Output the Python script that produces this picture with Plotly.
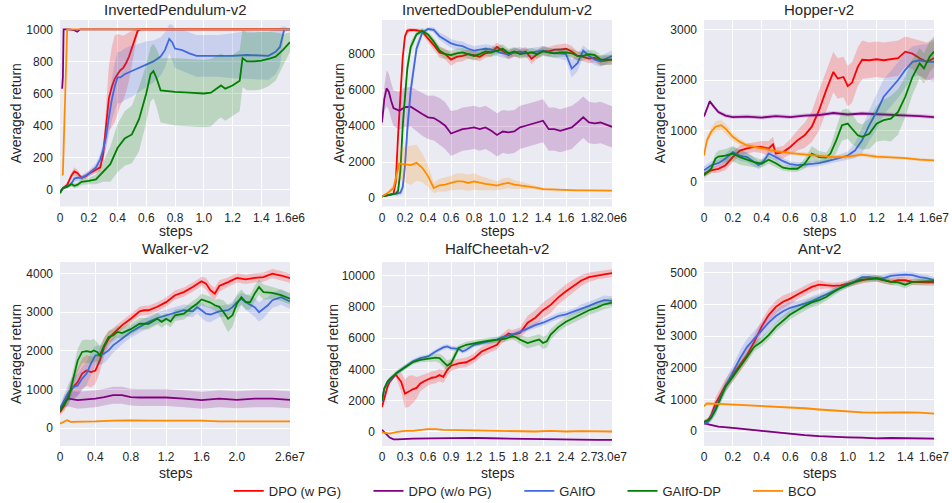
import plotly.graph_objects as go

# ---------------- InvertedPendulum-v2 (x in 1e6 steps) ----------------
ip_pg_x = [0, 0.02, 0.05, 0.08, 0.1, 0.12, 0.15, 0.18, 0.2, 0.23, 0.25, 0.28, 0.3, 0.32, 0.34, 0.36, 0.38, 0.4, 0.42, 0.44, 0.46, 0.48, 0.5, 0.52, 0.54, 0.56, 0.6, 0.8, 1.0, 1.2, 1.4, 1.6]
ip_pg_y = [-20, 10, 30, 90, 115, 105, 75, 85, 100, 115, 120, 140, 220, 380, 570, 640, 690, 720, 745, 760, 790, 830, 880, 940, 990, 1000, 1000, 1000, 1000, 1000, 1000, 1000]
ip_pg_sd = [5, 10, 15, 20, 25, 20, 15, 15, 15, 20, 20, 25, 40, 120, 200, 250, 270, 250, 220, 200, 180, 150, 110, 60, 20, 0, 0, 0, 0, 0, 0, 0]
ip_nopg_x = [0.015, 0.02, 0.025, 0.06, 0.1, 0.12, 0.14, 0.2, 0.6, 1.0, 1.6]
ip_nopg_y = [630, 700, 1000, 1000, 995, 985, 1000, 1000, 1000, 1000, 1000]
ip_nopg_sd = [0, 0, 0, 0, 0, 0, 0, 0, 0, 0, 0]
ip_gaifo_x = [0, 0.02, 0.05, 0.08, 0.1, 0.12, 0.15, 0.2, 0.25, 0.28, 0.3, 0.32, 0.34, 0.36, 0.38, 0.4, 0.42, 0.45, 0.5, 0.55, 0.6, 0.65, 0.7, 0.73, 0.76, 0.78, 0.8, 0.85, 0.9, 0.95, 1.0, 1.1, 1.2, 1.3, 1.4, 1.45, 1.5, 1.53, 1.56, 1.6]
ip_gaifo_y = [-10, 10, 20, 40, 70, 75, 75, 100, 140, 190, 250, 330, 450, 560, 640, 700, 700, 720, 740, 760, 785, 800, 830, 870, 940, 920, 880, 870, 850, 835, 835, 835, 835, 840, 835, 835, 860, 890, 1000, 1000]
ip_gaifo_sd = [5, 10, 10, 15, 20, 20, 15, 20, 25, 35, 50, 70, 100, 130, 150, 160, 160, 160, 160, 150, 140, 130, 120, 110, 90, 110, 120, 130, 130, 130, 130, 130, 140, 150, 150, 150, 140, 120, 20, 0]
ip_gaifodp_x = [0, 0.02, 0.05, 0.08, 0.1, 0.12, 0.15, 0.2, 0.25, 0.3, 0.35, 0.4, 0.45, 0.5, 0.55, 0.6, 0.63, 0.65, 0.67, 0.7, 0.8, 0.9, 1.0, 1.05, 1.1, 1.12, 1.15, 1.2, 1.25, 1.27, 1.3, 1.35, 1.4, 1.45, 1.5, 1.55, 1.6]
ip_gaifodp_y = [-20, 10, 20, 35, 25, 30, 50, 55, 65, 110, 160, 260, 320, 345, 440, 600, 720, 740, 700, 620, 610, 605, 600, 605, 640, 650, 630, 650, 680, 820, 800, 800, 805, 815, 830, 870, 920]
ip_gaifodp_sd = [10, 10, 10, 15, 15, 15, 20, 20, 30, 60, 110, 150, 170, 180, 200, 180, 170, 170, 180, 200, 210, 210, 210, 210, 200, 200, 200, 190, 190, 180, 180, 180, 180, 170, 150, 100, 60]
ip_bco_x = [0.015, 0.02, 0.05, 0.1, 0.6, 1.0, 1.6]
ip_bco_y = [90, 100, 1000, 1000, 1000, 1000, 1000]
ip_bco_sd = [0, 0, 0, 0, 0, 0, 0]
ip_xtick_vals = [0, 0.2, 0.4, 0.6, 0.8, 1.0, 1.2, 1.4, 1.6]
ip_xtick_text = ["0", "0.2", "0.4", "0.6", "0.8", "1.0", "1.2", "1.4", "1.6e6"]

# ---------------- InvertedDoublePendulum-v2 (x in 1e6 steps) ----------------
idp_grid_x = [0, 0.05, 0.1, 0.12, 0.14, 0.16, 0.18, 0.2, 0.22, 0.25, 0.3, 0.35, 0.4, 0.45, 0.5, 0.55, 0.6, 0.65, 0.7, 0.75, 0.8, 0.85, 0.9, 0.95, 1.0, 1.05, 1.1, 1.15, 1.2, 1.25, 1.3, 1.35, 1.4, 1.45, 1.5, 1.55, 1.6, 1.65, 1.7, 1.75, 1.8, 1.85, 1.9, 2.0]
idp_pg_y = [100, 150, 250, 900, 3500, 6000, 7800, 9000, 9300, 9350, 9330, 9250, 8900, 8500, 8100, 8000, 7700, 7850, 7900, 8000, 7950, 7850, 8050, 8100, 8400, 8150, 7950, 8100, 8050, 8150, 7750, 8000, 8200, 8150, 8250, 8250, 8300, 8150, 7900, 7850, 7750, 7800, 7600, 7700]
idp_pg_sd = [30, 40, 60, 200, 400, 400, 300, 200, 150, 100, 100, 150, 200, 250, 300, 300, 350, 300, 300, 250, 250, 250, 250, 250, 250, 250, 250, 250, 250, 250, 300, 250, 250, 250, 250, 300, 300, 300, 250, 250, 250, 250, 250, 250]
idp_gaifo_y = [100, 150, 200, 220, 250, 300, 600, 1800, 3800, 6000, 8300, 9200, 9400, 9350, 9000, 8800, 8600, 8500, 8450, 8300, 8200, 8250, 8300, 8250, 8150, 8050, 8000, 8100, 8150, 8050, 8100, 8150, 8200, 8100, 8050, 8050, 8000, 7200, 7500, 8200, 7900, 7700, 7600, 7900]
idp_gaifo_sd = [30, 40, 50, 60, 80, 150, 300, 500, 600, 500, 300, 150, 100, 150, 200, 250, 250, 250, 250, 250, 250, 250, 250, 250, 250, 250, 250, 250, 250, 250, 250, 250, 250, 250, 250, 300, 350, 500, 450, 300, 300, 300, 300, 300]
idp_gaifodp_y = [100, 150, 200, 250, 400, 1500, 4000, 5800, 7200, 8400, 9100, 9300, 9100, 8700, 8200, 8000, 7950, 8050, 8100, 8000, 7900, 8000, 8150, 8100, 8200, 8300, 8050, 8150, 8000, 8050, 8100, 8000, 8150, 8100, 8050, 8100, 8100, 8050, 7900, 7900, 8000, 7950, 7700, 7700]
idp_gaifodp_sd = [30, 40, 50, 100, 300, 500, 600, 500, 400, 300, 150, 150, 150, 200, 250, 250, 250, 250, 250, 250, 250, 250, 250, 250, 250, 250, 250, 250, 250, 250, 250, 250, 250, 250, 250, 250, 250, 250, 250, 250, 250, 250, 300, 300]
idp_nopg_x = [0, 0.02, 0.04, 0.06, 0.08, 0.1, 0.15, 0.2, 0.25, 0.3, 0.35, 0.4, 0.45, 0.5, 0.55, 0.6, 0.65, 0.7, 0.75, 0.8, 0.85, 0.9, 0.95, 1.0, 1.05, 1.1, 1.15, 1.2, 1.25, 1.3, 1.35, 1.4, 1.45, 1.5, 1.55, 1.6, 1.65, 1.7, 1.75, 1.8, 1.85, 1.9, 2.0]
idp_nopg_y = [4200, 5500, 6100, 5900, 5400, 5000, 4860, 5050, 5080, 4860, 4670, 4490, 4450, 4260, 4020, 3590, 3700, 3830, 3870, 3930, 3830, 3930, 3740, 3510, 3700, 3650, 3700, 3930, 4020, 4110, 4200, 4300, 3830, 3830, 3740, 3830, 3930, 4200, 4490, 4200, 4150, 4200, 3960]
idp_nopg_sd = [300, 700, 1000, 1000, 1000, 1000, 1050, 1100, 1100, 1150, 1200, 1200, 1250, 1300, 1300, 1250, 1200, 1200, 1200, 1200, 1200, 1200, 1200, 1200, 1200, 1200, 1200, 1200, 1200, 1200, 1200, 1200, 1200, 1200, 1200, 1200, 1200, 1150, 1150, 1150, 1150, 1150, 1150]
idp_bco_x = [0, 0.05, 0.1, 0.13, 0.15, 0.2, 0.25, 0.3, 0.35, 0.4, 0.45, 0.5, 0.55, 0.6, 0.65, 0.7, 0.75, 0.8, 0.85, 0.9, 0.95, 1.0, 1.05, 1.1, 1.15, 1.2, 1.25, 1.3, 1.35, 1.4, 1.5, 1.6, 1.7, 1.8, 2.0]
idp_bco_y = [100, 280, 560, 1500, 1920, 1870, 1830, 1960, 1680, 1220, 560, 710, 750, 840, 930, 930, 840, 930, 840, 790, 750, 690, 790, 840, 750, 710, 650, 630, 560, 500, 470, 450, 430, 430, 410]
idp_bco_sd = [20, 80, 200, 500, 800, 1000, 1100, 1000, 800, 600, 300, 350, 400, 400, 450, 450, 450, 450, 400, 350, 300, 250, 300, 300, 250, 200, 150, 120, 100, 80, 50, 40, 30, 30, 30]
idp_xtick_vals = [0, 0.2, 0.4, 0.6, 0.8, 1.0, 1.2, 1.4, 1.6, 1.8, 2.0]
idp_xtick_text = ["0", "0.2", "0.4", "0.6", "0.8", "1.0", "1.2", "1.4", "1.6", "1.8", "2.0e6"]

# ---------------- Hopper-v2 (x in 1e7 steps) ----------------
hop_pg_x = [0, 0.05, 0.1, 0.15, 0.2, 0.25, 0.3, 0.35, 0.4, 0.45, 0.48, 0.5, 0.55, 0.6, 0.65, 0.7, 0.75, 0.8, 0.85, 0.9, 0.93, 0.97, 1.0, 1.03, 1.07, 1.1, 1.15, 1.2, 1.25, 1.3, 1.35, 1.4, 1.45, 1.5, 1.55, 1.6]
hop_pg_y = [150, 220, 250, 320, 480, 610, 650, 680, 680, 650, 730, 550, 580, 680, 810, 910, 1080, 1400, 1800, 2160, 2030, 2060, 1880, 1950, 2260, 2400, 2390, 2410, 2390, 2410, 2430, 2560, 2520, 2430, 2360, 2430]
hop_pg_sd = [50, 60, 80, 100, 100, 100, 100, 100, 120, 150, 150, 120, 120, 150, 200, 250, 300, 400, 400, 400, 400, 400, 400, 400, 380, 380, 350, 350, 350, 350, 350, 300, 300, 350, 380, 380]
hop_nopg_x = [0, 0.02, 0.04, 0.07, 0.1, 0.15, 0.2, 0.3, 0.4, 0.5, 0.6, 0.7, 0.8, 0.9, 1.0, 1.1, 1.2, 1.3, 1.4, 1.5, 1.6]
hop_nopg_y = [1280, 1450, 1580, 1470, 1370, 1300, 1270, 1280, 1260, 1290, 1270, 1300, 1310, 1350, 1320, 1340, 1330, 1320, 1310, 1290, 1270]
hop_nopg_sd = [40, 40, 40, 40, 40, 40, 40, 40, 40, 40, 40, 40, 40, 40, 40, 40, 40, 40, 40, 40, 40]
hop_gaifo_x = [0, 0.05, 0.1, 0.15, 0.2, 0.25, 0.3, 0.35, 0.38, 0.42, 0.45, 0.5, 0.55, 0.6, 0.65, 0.7, 0.8, 0.9, 1.0, 1.05, 1.1, 1.15, 1.2, 1.25, 1.3, 1.35, 1.4, 1.45, 1.5, 1.55, 1.6]
hop_gaifo_y = [220, 320, 360, 450, 580, 510, 480, 380, 320, 420, 550, 480, 400, 340, 320, 330, 360, 430, 510, 610, 810, 1110, 1370, 1670, 1830, 2000, 2200, 2360, 2390, 2360, 2360]
hop_gaifo_sd = [80, 80, 80, 100, 100, 100, 100, 80, 80, 80, 80, 60, 60, 60, 60, 60, 60, 60, 80, 150, 250, 300, 350, 350, 350, 350, 350, 300, 300, 350, 400]
hop_gaifodp_x = [0, 0.05, 0.08, 0.1, 0.15, 0.2, 0.25, 0.3, 0.35, 0.4, 0.45, 0.5, 0.55, 0.6, 0.65, 0.7, 0.75, 0.8, 0.85, 0.88, 0.92, 0.96, 1.0, 1.03, 1.07, 1.1, 1.15, 1.2, 1.25, 1.3, 1.35, 1.4, 1.45, 1.5, 1.53, 1.57, 1.6]
hop_gaifodp_y = [120, 250, 450, 490, 510, 550, 480, 430, 380, 350, 430, 360, 270, 250, 250, 350, 550, 480, 470, 550, 810, 1110, 1140, 1040, 910, 880, 940, 1140, 1210, 1240, 1370, 1670, 2060, 2330, 2230, 2460, 2560]
hop_gaifodp_sd = [50, 80, 100, 120, 130, 150, 150, 130, 100, 80, 80, 80, 60, 60, 60, 100, 150, 120, 100, 150, 250, 300, 300, 300, 250, 250, 300, 350, 400, 450, 450, 400, 350, 300, 300, 300, 300]
hop_bco_x = [0, 0.02, 0.05, 0.08, 0.12, 0.15, 0.2, 0.25, 0.3, 0.35, 0.4, 0.5, 0.6, 0.7, 0.8, 0.9, 1.0, 1.1, 1.2, 1.3, 1.4, 1.5, 1.6]
hop_bco_y = [510, 810, 980, 1080, 1110, 1040, 880, 780, 710, 680, 650, 600, 560, 530, 510, 480, 490, 530, 490, 480, 460, 430, 415]
hop_bco_sd = [30, 60, 80, 100, 100, 100, 80, 60, 50, 50, 50, 40, 40, 40, 40, 40, 40, 40, 40, 30, 30, 30, 30]
hop_xtick_vals = [0, 0.2, 0.4, 0.6, 0.8, 1.0, 1.2, 1.4, 1.6]
hop_xtick_text = ["0", "0.2", "0.4", "0.6", "0.8", "1.0", "1.2", "1.4", "1.6e7"]

# ---------------- Walker-v2 (x in 1e7 steps) ----------------
wlk_pg_x = [0, 0.05, 0.1, 0.15, 0.2, 0.25, 0.3, 0.35, 0.4, 0.45, 0.5, 0.55, 0.6, 0.7, 0.8, 0.9, 0.95, 1.0, 1.1, 1.2, 1.3, 1.4, 1.5, 1.6, 1.65, 1.7, 1.75, 1.8, 1.9, 2.0, 2.05, 2.1, 2.2, 2.3, 2.4, 2.5, 2.6]
wlk_pg_y = [410, 590, 890, 1060, 1190, 1410, 1490, 1450, 1490, 1750, 2100, 2310, 2440, 2660, 2830, 3020, 3050, 3050, 3140, 3260, 3440, 3520, 3650, 3800, 3740, 3570, 3480, 3680, 3780, 3890, 3870, 3850, 3890, 3910, 4000, 3950, 3880]
wlk_pg_sd = [80, 150, 200, 300, 350, 400, 400, 400, 350, 300, 250, 200, 150, 120, 120, 120, 120, 120, 120, 120, 120, 120, 120, 120, 150, 150, 150, 150, 120, 120, 120, 120, 120, 120, 120, 120, 120]
wlk_nopg_x = [0, 0.05, 0.1, 0.2, 0.3, 0.4, 0.5, 0.6, 0.7, 0.8, 0.9, 1.0, 1.2, 1.4, 1.6, 1.8, 2.0, 2.2, 2.4, 2.6]
wlk_nopg_y = [500, 700, 760, 720, 740, 760, 800, 850, 850, 800, 790, 790, 790, 760, 720, 760, 730, 760, 760, 730]
wlk_nopg_sd = [50, 150, 200, 220, 220, 220, 220, 220, 220, 220, 220, 220, 220, 220, 220, 220, 220, 220, 220, 220]
wlk_gaifo_x = [0, 0.05, 0.1, 0.15, 0.2, 0.25, 0.3, 0.35, 0.4, 0.45, 0.5, 0.55, 0.6, 0.7, 0.8, 0.9, 1.0, 1.1, 1.2, 1.3, 1.4, 1.5, 1.55, 1.6, 1.65, 1.7, 1.8, 1.9, 1.95, 2.0, 2.05, 2.1, 2.2, 2.25, 2.3, 2.35, 2.4, 2.5, 2.6]
wlk_gaifo_y = [500, 720, 930, 1060, 1100, 1280, 1410, 1670, 1880, 1880, 1930, 2010, 2140, 2310, 2490, 2620, 2750, 2850, 2920, 2990, 3050, 3020, 3130, 3050, 2960, 2940, 3020, 3050, 3130, 3260, 3350, 3260, 3130, 3000, 3090, 3180, 3310, 3390, 3280]
wlk_gaifo_sd = [80, 150, 250, 300, 300, 300, 300, 300, 250, 250, 250, 200, 200, 150, 150, 150, 150, 150, 150, 150, 150, 150, 150, 200, 200, 200, 150, 150, 150, 150, 150, 200, 250, 250, 250, 200, 200, 200, 200]
wlk_gaifodp_x = [0, 0.05, 0.1, 0.15, 0.2, 0.25, 0.3, 0.35, 0.38, 0.42, 0.45, 0.5, 0.55, 0.6, 0.65, 0.7, 0.8, 0.9, 1.0, 1.1, 1.15, 1.2, 1.25, 1.3, 1.4, 1.5, 1.55, 1.6, 1.7, 1.75, 1.8, 1.85, 1.9, 1.95, 2.0, 2.05, 2.1, 2.15, 2.2, 2.25, 2.3, 2.4, 2.5, 2.6]
wlk_gaifodp_y = [460, 630, 800, 1280, 1750, 1970, 1990, 1970, 2010, 1970, 1880, 2140, 2360, 2400, 2490, 2460, 2560, 2700, 2700, 2830, 2750, 2830, 2760, 2920, 2960, 3140, 3220, 3330, 3250, 3180, 3140, 3000, 2830, 2920, 3220, 3390, 3260, 3260, 3480, 3650, 3520, 3500, 3440, 3350]
wlk_gaifodp_sd = [80, 150, 200, 250, 300, 300, 300, 300, 300, 250, 250, 200, 150, 150, 150, 150, 150, 150, 150, 150, 150, 150, 150, 150, 150, 150, 150, 150, 150, 150, 200, 300, 350, 300, 250, 200, 200, 200, 200, 200, 200, 150, 150, 150]
wlk_bco_x = [0, 0.05, 0.08, 0.12, 0.2, 0.4, 0.6, 0.8, 1.0, 1.2, 1.4, 1.6, 1.8, 2.0, 2.2, 2.4, 2.6]
wlk_bco_y = [110, 160, 200, 160, 160, 170, 190, 200, 190, 190, 200, 190, 170, 170, 155, 155, 170]
wlk_bco_sd = [20, 20, 20, 20, 20, 20, 20, 20, 20, 20, 20, 20, 20, 20, 20, 20, 20]
wlk_xtick_vals = [0, 0.4, 0.8, 1.2, 1.6, 2.0, 2.6]
wlk_xtick_text = ["0", "0.4", "0.8", "1.2", "1.6", "2.0", "2.6e7"]

# ---------------- HalfCheetah-v2 (x in 1e7 steps) ----------------
hc_pg_x = [0, 0.03, 0.07, 0.1, 0.15, 0.18, 0.2, 0.25, 0.3, 0.35, 0.4, 0.45, 0.5, 0.55, 0.6, 0.65, 0.7, 0.75, 0.8, 0.85, 0.9, 1.0, 1.1, 1.2, 1.3, 1.4, 1.5, 1.55, 1.6, 1.65, 1.7, 1.8, 1.85, 1.9, 2.0, 2.1, 2.2, 2.3, 2.4, 2.5, 2.6, 2.7, 2.8, 2.9, 3.0]
hc_pg_y = [1580, 2120, 2870, 3200, 3520, 3670, 3520, 3200, 2440, 2590, 2720, 2810, 3090, 3240, 3370, 3460, 3500, 3630, 3520, 3950, 4230, 4380, 4450, 4710, 5140, 5360, 5570, 5900, 6110, 6290, 6220, 6330, 6650, 6980, 7300, 7780, 8120, 8600, 8990, 9350, 9680, 9890, 10000, 10070, 10150]
hc_pg_sd = [100, 150, 150, 150, 150, 150, 300, 600, 900, 1000, 900, 700, 500, 450, 400, 400, 400, 400, 400, 400, 350, 300, 300, 300, 300, 300, 300, 300, 300, 300, 300, 350, 400, 450, 500, 500, 500, 450, 450, 400, 350, 300, 250, 250, 250]
hc_nopg_x = [0, 0.05, 0.1, 0.15, 0.2, 0.4, 0.6, 0.8, 1.0, 1.2, 1.4, 1.6, 1.8, 2.0, 2.2, 2.4, 2.6, 2.8, 3.0]
hc_nopg_y = [130, -150, -370, -480, -480, -430, -410, -410, -390, -390, -410, -430, -450, -480, -500, -520, -520, -520, -520]
hc_nopg_sd = [40, 40, 40, 40, 40, 40, 40, 40, 40, 40, 40, 40, 40, 40, 40, 40, 40, 40, 40]
hc_gaifo_x = [0, 0.03, 0.07, 0.1, 0.2, 0.3, 0.4, 0.5, 0.6, 0.7, 0.8, 0.85, 0.9, 1.0, 1.05, 1.1, 1.2, 1.3, 1.4, 1.5, 1.6, 1.7, 1.8, 1.9, 2.0, 2.1, 2.2, 2.3, 2.4, 2.5, 2.6, 2.7, 2.8, 2.9, 3.0]
hc_gaifo_y = [1900, 2770, 3090, 3300, 3800, 4170, 4490, 4710, 4820, 5140, 5400, 5460, 5360, 5310, 5140, 5250, 5570, 5680, 5790, 5900, 6110, 6220, 6390, 6610, 6830, 6980, 7190, 7410, 7520, 7690, 7900, 8060, 8270, 8420, 8380]
hc_gaifo_sd = [100, 150, 150, 150, 150, 150, 150, 150, 150, 150, 150, 150, 150, 150, 150, 150, 150, 150, 150, 150, 150, 150, 150, 150, 200, 200, 200, 200, 200, 200, 250, 250, 250, 300, 300]
hc_gaifodp_x = [0, 0.03, 0.07, 0.1, 0.2, 0.3, 0.4, 0.5, 0.6, 0.7, 0.75, 0.8, 0.85, 0.9, 0.95, 1.0, 1.1, 1.2, 1.3, 1.4, 1.5, 1.6, 1.7, 1.75, 1.8, 1.9, 2.0, 2.05, 2.1, 2.15, 2.2, 2.3, 2.4, 2.5, 2.6, 2.7, 2.8, 2.9, 3.0]
hc_gaifodp_y = [2010, 2770, 3200, 3370, 3800, 4100, 4450, 4600, 4670, 4750, 4710, 4490, 4230, 4380, 4920, 5360, 5570, 5680, 5750, 5830, 5900, 5940, 6110, 6050, 5900, 5680, 5830, 5900, 5680, 5790, 6220, 6700, 7040, 7300, 7520, 7780, 7950, 8160, 8270]
hc_gaifodp_sd = [100, 150, 150, 150, 150, 150, 150, 150, 200, 250, 300, 350, 350, 300, 250, 200, 200, 200, 200, 200, 200, 200, 200, 250, 300, 350, 350, 350, 400, 400, 350, 300, 300, 300, 300, 300, 300, 300, 300]
hc_bco_x = [0, 0.1, 0.2, 0.3, 0.4, 0.5, 0.6, 0.7, 0.8, 1.0, 1.2, 1.4, 1.6, 1.8, 2.0, 2.2, 2.4, 2.6, 2.8, 3.0]
hc_bco_y = [-40, -110, 0, 60, 60, 110, 170, 170, 130, 110, 90, 60, 60, 40, 20, 60, 20, 40, 40, 20]
hc_bco_sd = [40, 40, 40, 40, 40, 40, 40, 40, 40, 40, 40, 40, 40, 40, 40, 40, 40, 40, 40, 40]
hc_xtick_vals = [0, 0.3, 0.6, 0.9, 1.2, 1.5, 1.8, 2.1, 2.4, 2.7, 3.0]
hc_xtick_text = ["0", "0.3", "0.6", "0.9", "1.2", "1.5", "1.8", "2.1", "2.4", "2.7", "3.0e7"]

# ---------------- Ant-v2 (x in 1e7 steps) ----------------
ant_grid_x = [0, 0.03, 0.05, 0.08, 0.1, 0.15, 0.2, 0.25, 0.3, 0.35, 0.4, 0.45, 0.5, 0.55, 0.6, 0.65, 0.7, 0.75, 0.8, 0.85, 0.9, 0.95, 1.0, 1.05, 1.1, 1.15, 1.2, 1.25, 1.3, 1.35, 1.4, 1.45, 1.5, 1.55, 1.6]
ant_pg_y = [290, 350, 500, 870, 1030, 1450, 1770, 2080, 2400, 2820, 3290, 3660, 3920, 4080, 4180, 4310, 4440, 4550, 4620, 4600, 4580, 4600, 4650, 4710, 4760, 4810, 4810, 4760, 4710, 4760, 4760, 4710, 4690, 4690, 4690]
ant_pg_sd = [50, 80, 150, 200, 200, 200, 200, 200, 200, 200, 200, 200, 200, 200, 180, 150, 150, 150, 150, 100, 100, 100, 100, 100, 100, 100, 100, 100, 100, 100, 100, 100, 100, 100, 100]
ant_gaifo_y = [240, 290, 450, 710, 920, 1400, 1870, 2290, 2660, 2920, 3180, 3420, 3630, 3780, 3890, 3950, 4020, 4100, 4200, 4310, 4410, 4520, 4620, 4730, 4860, 4860, 4810, 4830, 4900, 4920, 4940, 4920, 4860, 4830, 4760]
ant_gaifo_sd = [50, 80, 150, 200, 200, 200, 200, 250, 250, 250, 250, 250, 200, 200, 200, 150, 150, 150, 150, 100, 100, 100, 100, 100, 100, 100, 100, 100, 100, 100, 100, 100, 100, 100, 100]
ant_gaifodp_y = [290, 350, 420, 660, 870, 1400, 1710, 2030, 2340, 2660, 2820, 3030, 3290, 3500, 3680, 3810, 3950, 4060, 4130, 4230, 4390, 4520, 4620, 4710, 4790, 4790, 4830, 4760, 4710, 4690, 4620, 4710, 4710, 4710, 4730]
ant_gaifodp_sd = [50, 80, 100, 150, 150, 150, 150, 150, 150, 150, 150, 150, 150, 150, 150, 150, 150, 150, 150, 120, 120, 100, 100, 100, 100, 100, 100, 100, 100, 100, 120, 100, 100, 100, 100]
ant_nopg_x = [0, 0.05, 0.1, 0.2, 0.3, 0.4, 0.5, 0.6, 0.7, 0.8, 0.9, 1.0, 1.1, 1.2, 1.3, 1.4, 1.5, 1.6]
ant_nopg_y = [240, 190, 140, 100, 50, 0, -50, -100, -130, -160, -190, -200, -210, -230, -220, -220, -230, -240]
ant_nopg_sd = [30, 30, 30, 30, 30, 30, 30, 30, 30, 30, 30, 30, 30, 30, 30, 30, 30, 30]
ant_bco_x = [0, 0.02, 0.1, 0.2, 0.3, 0.4, 0.5, 0.6, 0.7, 0.8, 0.9, 1.0, 1.1, 1.2, 1.3, 1.4, 1.5, 1.6]
ant_bco_y = [780, 870, 860, 840, 820, 800, 770, 750, 720, 680, 650, 610, 590, 580, 590, 590, 580, 550]
ant_bco_sd = [30, 30, 30, 30, 30, 30, 30, 30, 30, 30, 30, 30, 30, 30, 30, 30, 30, 30]
ant_xtick_vals = [0, 0.2, 0.4, 0.6, 0.8, 1.0, 1.2, 1.4, 1.6]
ant_xtick_text = ["0", "0.2", "0.4", "0.6", "0.8", "1.0", "1.2", "1.4", "1.6e7"]

series_names = ["DPO (w PG)", "DPO (w/o PG)", "GAIfO", "GAIfO-DP", "BCO"]
panel_titles = ["InvertedPendulum-v2", "InvertedDoublePendulum-v2", "Hopper-v2",
                "Walker-v2", "HalfCheetah-v2", "Ant-v2"]

# ---------------- styling ----------------
line_colors = ["#ff0000", "#800080", "#4169e1", "#008000", "#ff8c00"]
fill_colors = ["rgba(255,0,0,0.2)", "rgba(128,0,128,0.2)", "rgba(65,105,225,0.2)",
               "rgba(0,128,0,0.2)", "rgba(255,140,0,0.2)"]
FONT = "Arial, Liberation Sans, sans-serif"
TXT = "#262626"
W, H = 952, 503

panels = [
    dict(series=[(ip_pg_x, ip_pg_y, ip_pg_sd), (ip_nopg_x, ip_nopg_y, ip_nopg_sd),
                 (ip_gaifo_x, ip_gaifo_y, ip_gaifo_sd), (ip_gaifodp_x, ip_gaifodp_y, ip_gaifodp_sd),
                 (ip_bco_x, ip_bco_y, ip_bco_sd)],
         xr=[0, 1.6], xt=(ip_xtick_vals, ip_xtick_text), yr=[-104, 1058], dt=200),
    dict(series=[(idp_grid_x, idp_pg_y, idp_pg_sd), (idp_nopg_x, idp_nopg_y, idp_nopg_sd),
                 (idp_grid_x, idp_gaifo_y, idp_gaifo_sd), (idp_grid_x, idp_gaifodp_y, idp_gaifodp_sd),
                 (idp_bco_x, idp_bco_y, idp_bco_sd)],
         xr=[0, 2.0], xt=(idp_xtick_vals, idp_xtick_text), yr=[-470, 9900], dt=2000),
    dict(series=[(hop_pg_x, hop_pg_y, hop_pg_sd), (hop_nopg_x, hop_nopg_y, hop_nopg_sd),
                 (hop_gaifo_x, hop_gaifo_y, hop_gaifo_sd), (hop_gaifodp_x, hop_gaifodp_y, hop_gaifodp_sd),
                 (hop_bco_x, hop_bco_y, hop_bco_sd)],
         xr=[0, 1.6], xt=(hop_xtick_vals, hop_xtick_text), yr=[-494, 3184], dt=1000),
    dict(series=[(wlk_pg_x, wlk_pg_y, wlk_pg_sd), (wlk_nopg_x, wlk_nopg_y, wlk_nopg_sd),
                 (wlk_gaifo_x, wlk_gaifo_y, wlk_gaifo_sd), (wlk_gaifodp_x, wlk_gaifodp_y, wlk_gaifodp_sd),
                 (wlk_bco_x, wlk_bco_y, wlk_bco_sd)],
         xr=[0, 2.6], xt=(wlk_xtick_vals, wlk_xtick_text), yr=[-466, 4300], dt=1000),
    dict(series=[(hc_pg_x, hc_pg_y, hc_pg_sd), (hc_nopg_x, hc_nopg_y, hc_nopg_sd),
                 (hc_gaifo_x, hc_gaifo_y, hc_gaifo_sd), (hc_gaifodp_x, hc_gaifodp_y, hc_gaifodp_sd),
                 (hc_bco_x, hc_bco_y, hc_bco_sd)],
         xr=[0, 3.0], xt=(hc_xtick_vals, hc_xtick_text), yr=[-907, 10864], dt=2000),
    dict(series=[(ant_grid_x, ant_pg_y, ant_pg_sd), (ant_nopg_x, ant_nopg_y, ant_nopg_sd),
                 (ant_grid_x, ant_gaifo_y, ant_gaifo_sd), (ant_grid_x, ant_gaifodp_y, ant_gaifodp_sd),
                 (ant_bco_x, ant_bco_y, ant_bco_sd)],
         xr=[0, 1.6], xt=(ant_xtick_vals, ant_xtick_text), yr=[-472, 5336], dt=1000),
]

# plot-area boxes in pixels (left, right) per column, (top, bottom) per row
col_px = [(60, 290), (382, 612), (704, 934)]
row_px = [(20, 206.5), (262, 446)]
ylabel_px = [16, 339, 660, 16, 333, 660]

fig = go.Figure()
layout = dict(
    template="none",
    width=W, height=H, margin=dict(l=0, r=0, t=0, b=0, pad=0, autoexpand=False),
    paper_bgcolor="white", plot_bgcolor="#EAEAF2",
    font=dict(family=FONT, color=TXT, size=12),
    annotations=[],
)

legend_ids = ["legend", "legend2", "legend3", "legend4", "legend5"]

for p, panel in enumerate(panels):
    r, c = divmod(p, 3)
    ax = "" if p == 0 else str(p + 1)
    xref, yref = "x" + ax, "y" + ax
    for s, (xs, ys, sds) in enumerate(panel["series"]):
        upper = [v + d for v, d in zip(ys, sds)]
        lower = [v - d for v, d in zip(ys, sds)]
        fig.add_trace(go.Scatter(x=xs, y=upper, mode="lines", line=dict(width=0),
                                 xaxis=xref, yaxis=yref, showlegend=False, hoverinfo="skip"))
        fig.add_trace(go.Scatter(x=xs, y=lower, mode="lines", line=dict(width=0),
                                 fill="tonexty", fillcolor=fill_colors[s],
                                 xaxis=xref, yaxis=yref, showlegend=False, hoverinfo="skip"))
        fig.add_trace(go.Scatter(x=xs, y=ys, mode="lines", name=series_names[s],
                                 line=dict(color=line_colors[s], width=1.8),
                                 xaxis=xref, yaxis=yref, showlegend=(p == 0),
                                 legend=legend_ids[s]))
    l, rgt = col_px[c]
    t, b = row_px[r]
    layout["xaxis" + ax] = dict(
        domain=[l / W, rgt / W], anchor=yref, range=panel["xr"], automargin=False,
        tickmode="array", tickvals=panel["xt"][0], ticktext=panel["xt"][1], tickangle=0,
        showgrid=True, gridcolor="white", gridwidth=1, zeroline=False, showline=False,
        ticks="", tickfont=dict(size=12, color=TXT, family=FONT), ticklabelstandoff=2,
    )
    layout["yaxis" + ax] = dict(
        domain=[1 - b / H, 1 - t / H], anchor=xref, range=panel["yr"], automargin=False,
        tickmode="linear", tick0=0, dtick=panel["dt"], tickformat="d",
        showgrid=True, gridcolor="white", gridwidth=1, zeroline=False, showline=False,
        ticks="", tickfont=dict(size=12, color=TXT, family=FONT), ticklabelstandoff=6,
    )
    cx = (l + rgt) / 2 / W
    title_y = [9, 248.5][r]
    steps_y = [231, 473][r]
    layout["annotations"].append(dict(text=panel_titles[p], x=cx, y=1 - title_y / H, xref="paper",
                                      yref="paper", showarrow=False, xanchor="center", yanchor="middle",
                                      font=dict(size=15, color=TXT, family=FONT)))
    layout["annotations"].append(dict(text="steps", x=cx, y=1 - steps_y / H, xref="paper",
                                      yref="paper", showarrow=False, xanchor="center", yanchor="middle",
                                      font=dict(size=14, color=TXT, family=FONT)))
    layout["annotations"].append(dict(text="Averaged return", x=ylabel_px[p] / W,
                                      y=1 - (t + b) / 2 / H, xref="paper", yref="paper",
                                      showarrow=False, xanchor="center", yanchor="middle", textangle=-90,
                                      font=dict(size=14, color=TXT, family=FONT)))

legend_x_px = [228.75, 368.5, 519.3, 622.5, 748]
for s, lid in enumerate(legend_ids):
    layout[lid] = dict(orientation="h", x=legend_x_px[s] / W, y=1 - 491 / H,
                       xanchor="left", yanchor="middle", bgcolor="rgba(0,0,0,0)",
                       font=dict(size=13, color=TXT, family=FONT), itemwidth=30,
                       borderwidth=0)

fig.update_layout(**layout)
fig.write_html("out.html", config={"displayModeBar": False},
               post_script="document.body.style.margin='0';document.body.style.overflow='hidden';")
